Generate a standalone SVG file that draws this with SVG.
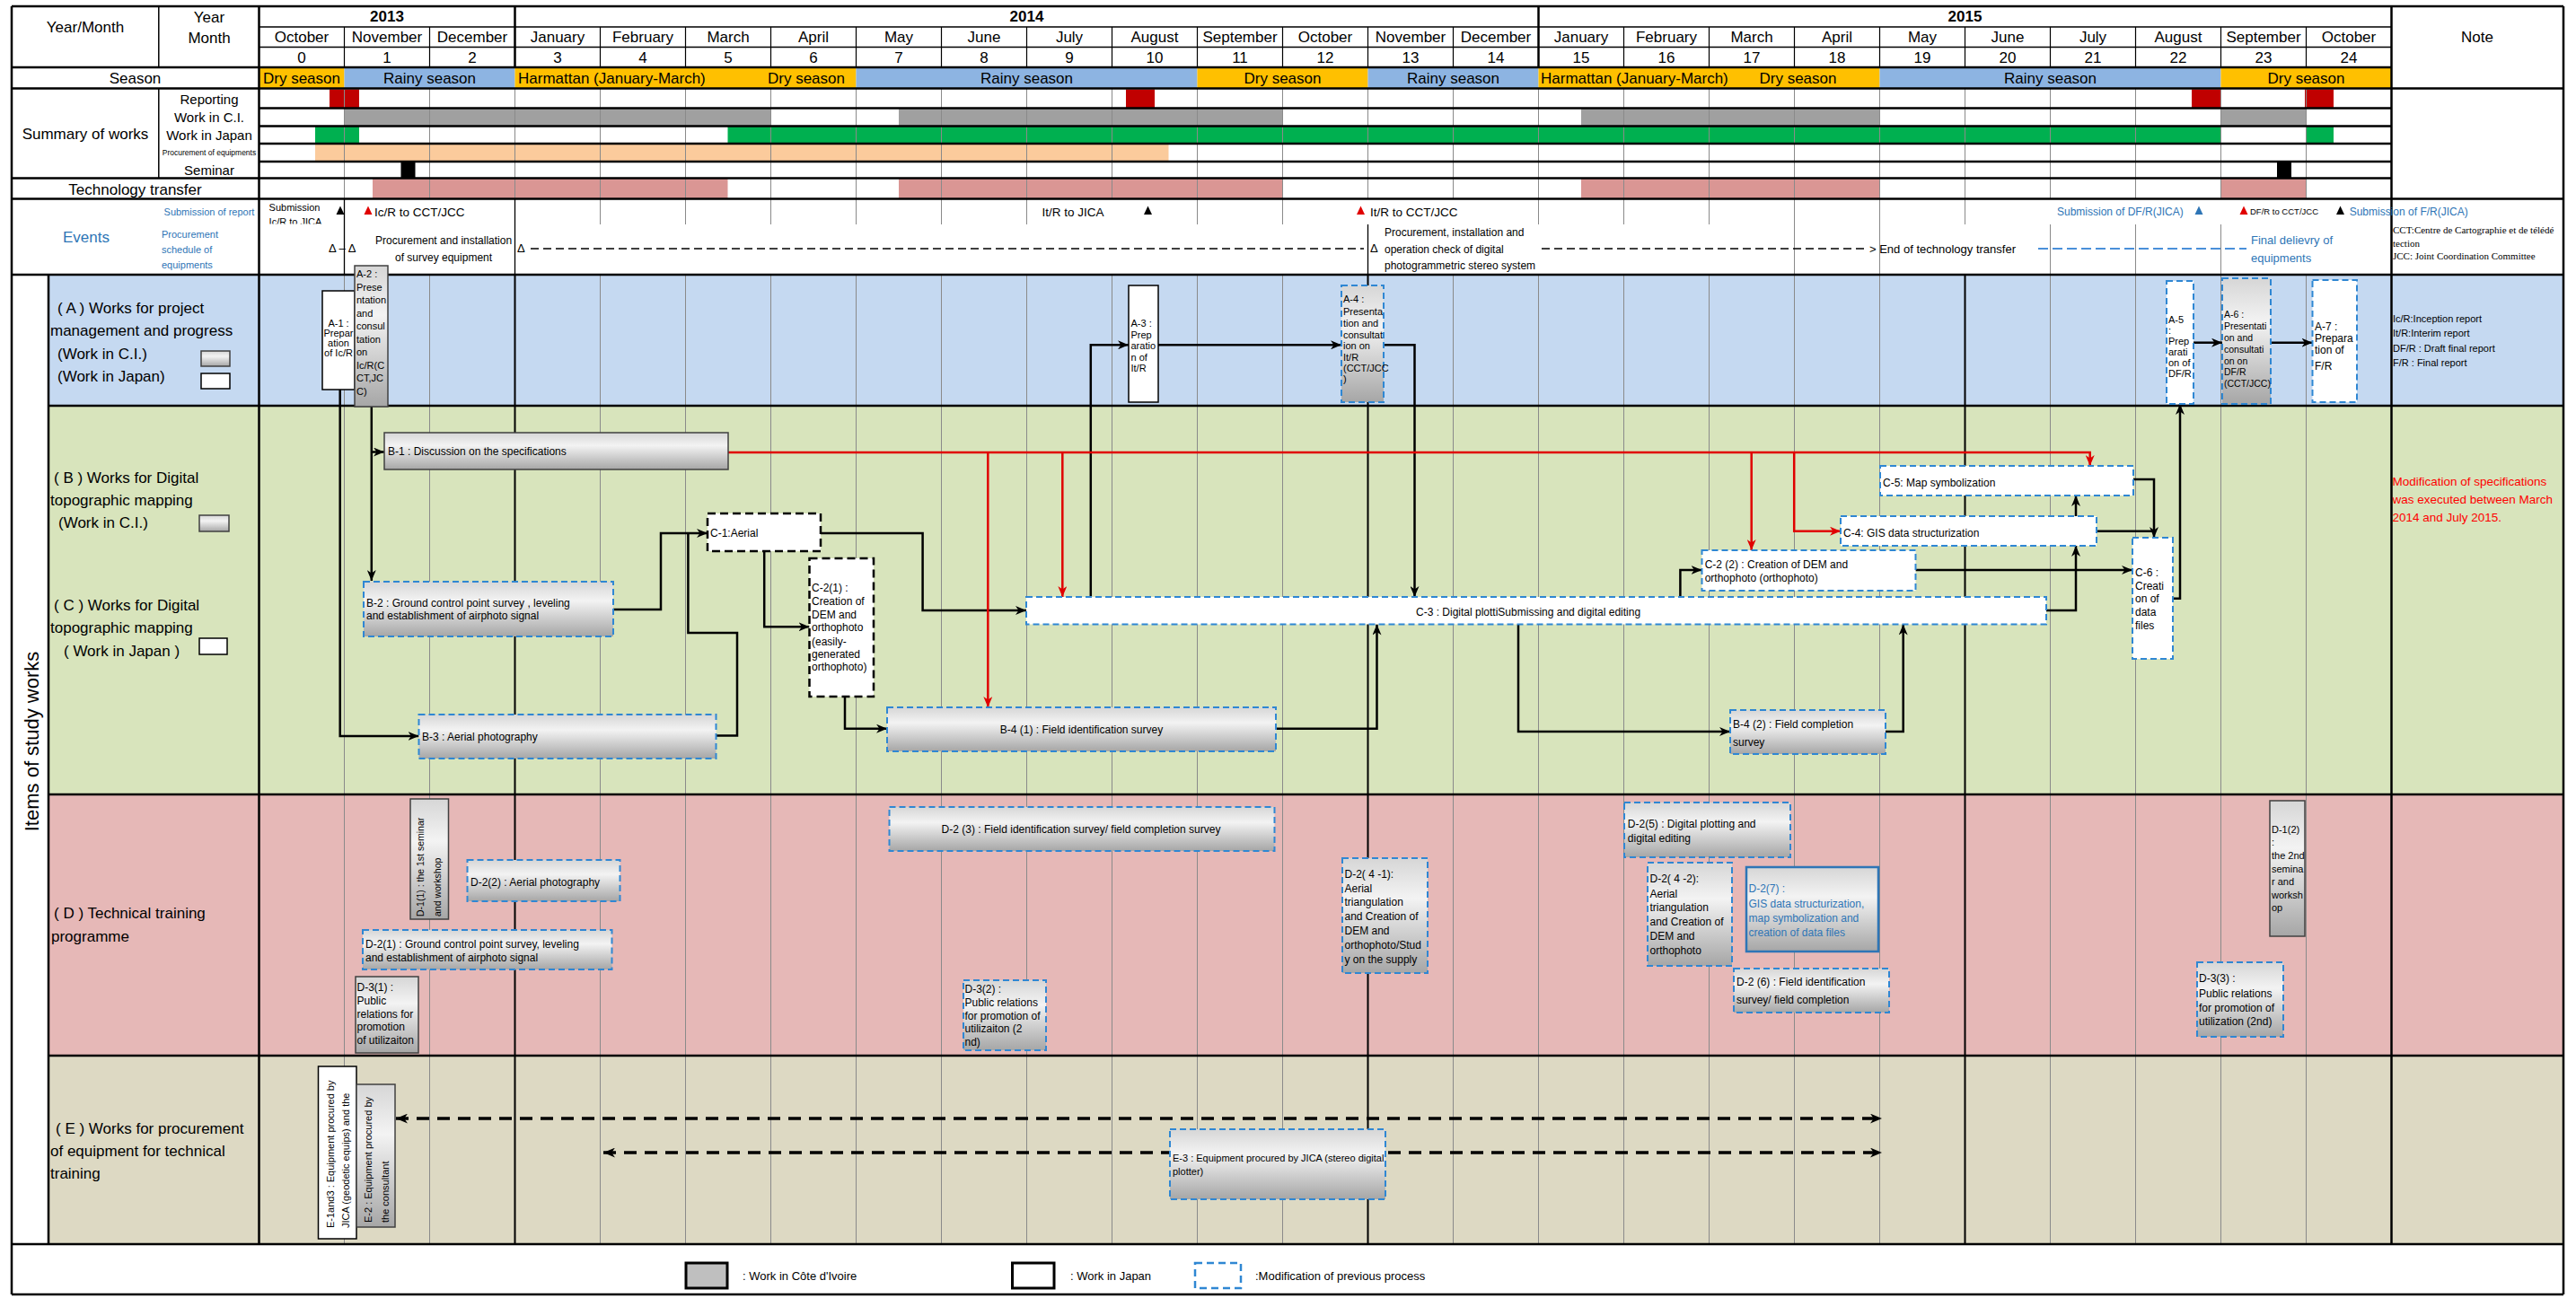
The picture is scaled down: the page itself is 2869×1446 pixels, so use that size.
<svg xmlns="http://www.w3.org/2000/svg" width="2869" height="1446" viewBox="0 0 2869 1446">
<style>
text{font-family:"Liberation Sans",Arial,"Noto Sans",sans-serif;fill:#000}
.h{font-size:17px}
.c{text-anchor:middle}
.s11{font-size:11px}
.s12{font-size:12px}
.blue{fill:#2E75B6}
.ci{fill:url(#gg);stroke:#404040;stroke-width:1.5}
.jp{fill:#fff;stroke:#000;stroke-width:1.5}
.mci{fill:url(#gg);stroke:#2F87D3;stroke-width:2;stroke-dasharray:7 4}
.mjp{fill:#fff;stroke:#2F87D3;stroke-width:2;stroke-dasharray:7 4}
.bd{fill:#fff;stroke:#000;stroke-width:2.5;stroke-dasharray:9 5}
.thin{stroke:#8a8a8a;stroke-width:1;fill:none}
.blk{stroke:#000;fill:none}
.cn{stroke:#000;stroke-width:2.5;fill:none;marker-end:url(#ab)}
.cn0{stroke:#000;stroke-width:2.5;fill:none}
.rd{stroke:#E00000;stroke-width:2.5;fill:none;marker-end:url(#ar)}
.ed{stroke:#000;stroke-width:3.5;fill:none;stroke-dasharray:14 9;marker-end:url(#ae);marker-start:url(#ae)}
</style>
<defs>
<linearGradient id="gg" x1="0" y1="0" x2="0" y2="1">
<stop offset="0" stop-color="#d6d6d6"/><stop offset="0.35" stop-color="#f3f3f3"/><stop offset="1" stop-color="#a6a6a6"/>
</linearGradient>
<marker id="ab" viewBox="0 0 12 10" refX="12" refY="5" markerWidth="12" markerHeight="10" markerUnits="userSpaceOnUse" orient="auto"><path d="M0,0 L12,5 L0,10 L3.5,5 Z" fill="#000"/></marker>
<marker id="ar" viewBox="0 0 12 10" refX="12" refY="5" markerWidth="12" markerHeight="10" markerUnits="userSpaceOnUse" orient="auto"><path d="M0,0 L12,5 L0,10 L3.5,5 Z" fill="#E00000"/></marker>
<marker id="ae" viewBox="0 0 12 10" refX="12" refY="5" markerWidth="13" markerHeight="11" markerUnits="userSpaceOnUse" orient="auto-start-reverse"><path d="M0,0 L12,5 L0,10 L3.5,5 Z" fill="#000"/></marker>
<clipPath id="clsub"><rect x="289" y="222" width="85" height="27.5"/></clipPath>
</defs>
<rect x="0" y="0" width="2869" height="1446" fill="#fff"/>

<g id="backgrounds">
<rect x="54" y="306" width="2801" height="146" fill="#C5D9F1"/>
<rect x="54" y="452" width="2801" height="433" fill="#D8E4BC"/>
<rect x="54" y="885" width="2801" height="291" fill="#E6B8B7"/>
<rect x="54" y="1176" width="2801" height="210" fill="#DDD9C3"/>
<!-- seasons -->
<rect x="288.5" y="75.5" width="95" height="23" fill="#FFC000"/>
<rect x="383.5" y="75.5" width="190" height="23" fill="#8DB4E2"/>
<rect x="573.5" y="75.5" width="380" height="23" fill="#FFC000"/>
<rect x="953.5" y="75.5" width="380" height="23" fill="#8DB4E2"/>
<rect x="1333.5" y="75.5" width="190" height="23" fill="#FFC000"/>
<rect x="1523.5" y="75.5" width="190" height="23" fill="#8DB4E2"/>
<rect x="1713.5" y="75.5" width="380" height="23" fill="#FFC000"/>
<rect x="2093.5" y="75.5" width="380" height="23" fill="#8DB4E2"/>
<rect x="2473.5" y="75.5" width="190" height="23" fill="#FFC000"/>
<!-- reporting -->
<g fill="#C00000">
<rect x="367" y="99.5" width="33" height="21"/><rect x="1254" y="99.5" width="32" height="21"/>
<rect x="2441" y="99.5" width="32" height="21"/><rect x="2567" y="99.5" width="32" height="21"/>
</g>
<g fill="#A0A0A0">
<rect x="383.5" y="121" width="475" height="19.5"/><rect x="1001" y="121" width="427.5" height="19.5"/>
<rect x="1761" y="121" width="332.5" height="19.5"/><rect x="2473.5" y="121" width="95" height="19.5"/>
</g>
<g fill="#00B050">
<rect x="351" y="141" width="49" height="19"/><rect x="810.5" y="141" width="1663" height="19"/>
<rect x="2568.5" y="141" width="30.5" height="19"/>
</g>
<rect x="351" y="160.5" width="950.5" height="19.5" fill="#FBCB9C"/>
<g fill="#000">
<rect x="446.5" y="180" width="16" height="18.5"/><rect x="2536" y="180" width="16" height="18.5"/>
</g>
<g fill="#DA9694">
<rect x="415" y="199" width="395.5" height="22.5"/><rect x="1001" y="199" width="427.5" height="22.5"/>
<rect x="1761" y="199" width="332.5" height="22.5"/><rect x="2473.5" y="199" width="95" height="22.5"/>
</g>
</g>

<g id="grid">
<path class="thin" d="M383.5 306V1386M478.5 306V1386M668.5 306V1386M763.5 306V1386M858.5 306V1386M953.5 306V1386M1048.5 306V1386M1143.5 306V1386M1238.5 306V1386M1333.5 306V1386M1428.5 306V1386M1618.5 306V1386M1713.5 306V1386M1808.5 306V1386M1903.5 306V1386M1998.5 306V1386M2093.5 306V1386M2283.5 306V1386M2378.5 306V1386M2473.5 306V1386M2568.5 306V1386"/>
<path class="blk" stroke-width="2" d="M573.5 306V1386M1523.5 306V1386M2188.5 306V1386"/>
<!-- summary grid -->
<path class="thin" d="M383.5 98.5V221.5M478.5 98.5V221.5M573.5 98.5V221.5M668.5 98.5V221.5M763.5 98.5V221.5M858.5 98.5V221.5M953.5 98.5V221.5M1048.5 98.5V221.5M1143.5 98.5V221.5M1238.5 98.5V221.5M1333.5 98.5V221.5M1428.5 98.5V221.5M1523.5 98.5V221.5M1618.5 98.5V221.5M1713.5 98.5V221.5M1808.5 98.5V221.5M1903.5 98.5V221.5M1998.5 98.5V221.5M2093.5 98.5V221.5M2188.5 98.5V221.5M2283.5 98.5V221.5M2378.5 98.5V221.5M2473.5 98.5V221.5M2568.5 98.5V221.5"/>
<!-- header month lines -->
<path class="blk" stroke-width="1.2" d="M383.5 30V75M478.5 30V75M668.5 30V75M763.5 30V75M858.5 30V75M953.5 30V75M1048.5 30V75M1143.5 30V75M1238.5 30V75M1333.5 30V75M1428.5 30V75M1523.5 30V75M1618.5 30V75M1808.5 30V75M1903.5 30V75M1998.5 30V75M2093.5 30V75M2188.5 30V75M2283.5 30V75M2378.5 30V75M2473.5 30V75M2568.5 30V75"/>
<path class="blk" stroke-width="2.5" d="M573.5 7V75M1713.5 7V75"/>
<!-- events grid -->
<path class="thin" d="M668.5 221.5V250M763.5 221.5V250M858.5 221.5V250M953.5 221.5V250M1048.5 221.5V250M1143.5 221.5V250M1333.5 221.5V250M1428.5 221.5V250M1713.5 221.5V250M1808.5 221.5V250M1903.5 221.5V250M1998.5 221.5V306M2093.5 221.5V306M2188.5 221.5V250M2283.5 250V306M2378.5 250V306M2473.5 250V306"/>
<path class="blk" stroke-width="1.3" d="M383.5 221.5V306M573.5 221.5V306M1523.5 250V306"/>
<!-- table frame -->
<path class="blk" stroke-width="2.5" d="M13 7H2855M13 75H2663.5M13 98.5H2855M13 221.5H2855M13 306H2855M54 452H2855M54 885H2855M54 1176H2855M13 1386H2855M13 1442H2855M13 7V1442M2855 7V1442M288.5 7V1386M2663.5 7V1386M54 306V1386"/>
<path class="blk" stroke-width="2.5" d="M288.5 120.5H2663.5M288.5 140.5H2663.5M288.5 160H2663.5M288.5 180H2663.5M13 198.5H2663.5"/>
<path class="blk" stroke-width="1.5" d="M288.5 30H2663.5M288.5 52.5H2663.5M176.8 7V75M176.8 98.5V198.5"/>
</g>

<g id="header-text">
<text class="h c" x="95" y="36">Year/Month</text>
<text class="h c" x="233" y="25">Year</text>
<text class="h c" x="233" y="48">Month</text>
<text class="h c" x="431" y="24" font-weight="bold">2013</text>
<text class="h c" x="1143.5" y="24" font-weight="bold">2014</text>
<text class="h c" x="2188.5" y="24" font-weight="bold">2015</text>
<text class="h c" x="2759" y="47">Note</text>
<g class="h c">
<text x="336" y="47">October</text><text x="431" y="47">November</text><text x="526" y="47">December</text>
<text x="621" y="47">January</text><text x="716" y="47">February</text><text x="811" y="47">March</text>
<text x="906" y="47">April</text><text x="1001" y="47">May</text><text x="1096" y="47">June</text>
<text x="1191" y="47">July</text><text x="1286" y="47">August</text><text x="1381" y="47">September</text>
<text x="1476" y="47">October</text><text x="1571" y="47">November</text><text x="1666" y="47">December</text>
<text x="1761" y="47">January</text><text x="1856" y="47">February</text><text x="1951" y="47">March</text>
<text x="2046" y="47">April</text><text x="2141" y="47">May</text><text x="2236" y="47">June</text>
<text x="2331" y="47">July</text><text x="2426" y="47">August</text><text x="2521" y="47">September</text>
<text x="2616" y="47">October</text>
<text x="336" y="70">0</text><text x="431" y="70">1</text><text x="526" y="70">2</text><text x="621" y="70">3</text>
<text x="716" y="70">4</text><text x="811" y="70">5</text><text x="906" y="70">6</text><text x="1001" y="70">7</text>
<text x="1096" y="70">8</text><text x="1191" y="70">9</text><text x="1286" y="70">10</text><text x="1381" y="70">11</text>
<text x="1476" y="70">12</text><text x="1571" y="70">13</text><text x="1666" y="70">14</text><text x="1761" y="70">15</text>
<text x="1856" y="70">16</text><text x="1951" y="70">17</text><text x="2046" y="70">18</text><text x="2141" y="70">19</text>
<text x="2236" y="70">20</text><text x="2331" y="70">21</text><text x="2426" y="70">22</text><text x="2521" y="70">23</text>
<text x="2616" y="70">24</text>
<text x="150.5" y="93">Season</text>
<text x="336" y="93">Dry season</text><text x="478.5" y="93">Rainy season</text>
<text x="898" y="93">Dry season</text><text x="1143.5" y="93">Rainy season</text>
<text x="1428.5" y="93">Dry season</text><text x="1618.5" y="93">Rainy season</text>
<text x="2002.5" y="93">Dry season</text><text x="2283.5" y="93">Rainy season</text>
<text x="2568.5" y="93">Dry season</text>
<text x="95" y="155">Summary of works</text>
<text x="150.5" y="217">Technology transfer</text>
</g>
<text class="h" x="577" y="93">Harmattan (January-March)</text>
<text class="h" x="1716" y="93">Harmattan (January-March)</text>
<g class="c" font-size="15">
<text x="233" y="116">Reporting</text>
<text x="233" y="136">Work in C.I.</text>
<text x="233" y="156">Work in Japan</text>
<text x="233" y="194.5">Seminar</text>
</g>
<text class="c" x="233" y="173" font-size="8.5">Procurement of equipments</text>
</g>

<g id="events">
<text class="h c blue" x="96" y="270">Events</text>
<text class="c s11 blue" x="233" y="239.5">Submission of report</text>
<text class="s11 blue" x="180" y="265">Procurement</text>
<text class="s11 blue" x="180" y="282">schedule of</text>
<text class="s11 blue" x="180" y="298.5">equipments</text>
<text class="s11" x="299.6" y="235">Submission</text>
<text class="s11" x="299.6" y="251" clip-path="url(#clsub)">Ic/R to JICA</text>
<polygon points="374.5,239 379,229.5 383.5,239" fill="#000"/>
<polygon points="405.5,239 410,229.5 414.5,239" fill="#E00000"/>
<text x="417" y="240.5" font-size="13.5">Ic/R to CCT/JCC</text>
<text x="366" y="281" font-size="13">Δ – Δ</text>
<text class="s12" x="418" y="272">Procurement and installation</text>
<text class="s12" x="440" y="291">of survey equipment</text>
<text x="576" y="281" font-size="13">Δ</text>
<line x1="591" y1="277" x2="1519" y2="277" stroke="#000" stroke-width="1.5" stroke-dasharray="9 5"/>
<text x="1160.6" y="240.5" font-size="13.5">It/R to JICA</text>
<polygon points="1274,239 1278.5,229.5 1283,239" fill="#000"/>
<polygon points="1511,239 1515.5,229.5 1520,239" fill="#E00000"/>
<text x="1526" y="240.5" font-size="13.5">It/R to CCT/JCC</text>
<text x="1526" y="281" font-size="13">Δ</text>
<text class="s12" x="1542" y="263">Procurement, installation and</text>
<text class="s12" x="1542" y="282">operation check of digital</text>
<text class="s12" x="1542" y="300">photogrammetric stereo system</text>
<line x1="1717" y1="277" x2="2080" y2="277" stroke="#000" stroke-width="1.5" stroke-dasharray="9 5"/>
<text x="2082" y="282" font-size="13">&gt; End of technology transfer</text>
<line x1="2270" y1="277" x2="2502" y2="277" stroke="#4A90D9" stroke-width="1.8" stroke-dasharray="11 5"/>
<text class="blue" x="2507" y="272" font-size="13">Final delievry of</text>
<text class="blue" x="2507" y="292" font-size="13">equipments</text>
<text class="s12 blue" x="2291" y="239.5">Submission of DF/R(JICA)</text>
<polygon points="2444.5,239 2449,229.5 2453.5,239" fill="#2E75B6"/>
<polygon points="2494.5,239 2499,229.5 2503.5,239" fill="#E00000"/>
<text x="2506" y="238.5" font-size="9.5">DF/R to CCT/JCC</text>
<polygon points="2602,239 2606.5,229.5 2611,239" fill="#000"/>
<text class="s12 blue" x="2616.7" y="239.5">Submission of F/R(JICA)</text>
<g font-size="11" style="font-family:'Liberation Serif','Times New Roman',serif">
<text x="2665" y="260" style="font-family:'Liberation Serif','Times New Roman',serif">CCT:Centre de Cartographie et de télédé</text>
<text x="2665" y="274.5" style="font-family:'Liberation Serif','Times New Roman',serif">tection</text>
<text x="2665" y="289" style="font-family:'Liberation Serif','Times New Roman',serif">JCC: Joint  Coordination Committee</text>
</g>
</g>

<g id="section-labels">
<text transform="translate(43,826) rotate(-90)" class="c" font-size="22">Items of study works</text>
<g class="h">
<text x="64" y="349">( A ) Works for project</text>
<text x="56" y="374">management and progress</text>
<text x="64" y="400">(Work in C.I.)</text>
<text x="64" y="425">(Work in Japan)</text>
<text x="60" y="538">( B ) Works for Digital</text>
<text x="56" y="563">topographic mapping</text>
<text x="65" y="588">(Work in C.I.)</text>
<text x="60" y="680">( C ) Works for Digital</text>
<text x="56" y="705">topographic mapping</text>
<text x="71" y="731">( Work in Japan )</text>
<text x="60" y="1023">( D ) Technical training</text>
<text x="57" y="1049">programme</text>
<text x="62" y="1263">( E ) Works for procurement</text>
<text x="56" y="1288">of equipment for technical</text>
<text x="56" y="1313">training</text>
</g>
<rect class="ci" x="224" y="391" width="32" height="17"/>
<rect class="jp" x="224" y="416" width="32" height="17"/>
<rect class="ci" x="222" y="574" width="33" height="18"/>
<rect class="jp" x="222" y="711" width="31" height="18"/>
<g class="s11">
<text x="2665" y="359">Ic/R:Inception report</text>
<text x="2665" y="375">It/R:Interim report</text>
<text x="2665" y="392">DF/R : Draft final report</text>
<text x="2665" y="408">F/R : Final report</text>
</g>
<g font-size="13.5" fill="#FF0000">
<text x="2664.5" y="541" fill="#FF0000" style="fill:#FF0000">Modification of specifications</text>
<text x="2664.5" y="561" style="fill:#FF0000">was executed between March</text>
<text x="2664.5" y="581" style="fill:#FF0000">2014 and July 2015.</text>
</g>
</g>

<g id="connectors">
<path class="cn" d="M378.7 434V820H466.5"/>
<path class="cn" d="M413.8 453V647"/>
<path class="cn" d="M413.8 503.5H428"/>
<path class="cn" d="M683 679H736V594H788"/>
<path class="cn0" d="M797.3 819.5H821V705H766.4V594"/>
<path class="cn" d="M914 594H1027.6V680H1143"/>
<path class="cn" d="M851.2 614V698.3H901.5"/>
<path class="cn" d="M941 776V811.7H988"/>
<path class="cn" d="M1421 811.7H1533.5V695.5"/>
<path class="cn" d="M1214.8 665V384.3H1257"/>
<path class="cn" d="M1290 384.3H1494"/>
<path class="cn" d="M1541 384.3H1575.5V665"/>
<path class="cn" d="M1871.4 665V635H1895.5"/>
<path class="cn" d="M1691 695.5V815H1927"/>
<path class="cn" d="M2100 815H2119.7V695.5"/>
<path class="cn" d="M2279 680H2312V608"/>
<path class="cn" d="M2312 575V552"/>
<path class="cn" d="M2376 534H2399V599"/>
<path class="cn0" d="M2335 591.7H2399"/>
<path class="cn" d="M2133.3 635H2375"/>
<path class="cn" d="M2420 666.7H2428V450"/>
<path class="cn" d="M2443 381.7H2475"/>
<path class="cn" d="M2529 381.7H2575.5"/>
<path class="rd" d="M811 504H2327.7V519"/>
<path class="rd" d="M1100.3 504V788"/>
<path class="rd" d="M1183.3 504V665"/>
<path class="rd" d="M1950.7 504V613"/>
<path class="rd" d="M1998.2 504V591.7H2050"/>
<path class="ed" d="M441 1246H2096"/>
<path class="ed" d="M672 1284H2096"/>
</g>

<g id="nodes">
<g id="A-1"><rect class="jp" x="359" y="324" width="36" height="110"/>
<text class="s11 c" x="377"><tspan x="377" y="364">A-1 :</tspan><tspan x="377" y="375">Prepar</tspan><tspan x="377" y="386">ation</tspan><tspan x="377" y="396.5">of Ic/R</tspan></text></g>
<g id="A-2"><rect class="ci" x="395" y="296" width="37" height="157"/>
<text class="s11"><tspan x="397" y="309">A-2 :</tspan><tspan x="397" y="323.5">Prese</tspan><tspan x="397" y="338">ntation</tspan><tspan x="397" y="352.5">and</tspan><tspan x="397" y="367">consul</tspan><tspan x="397" y="381.5">tation</tspan><tspan x="397" y="396">on</tspan><tspan x="397" y="410.5">Ic/R(C</tspan><tspan x="397" y="425">CT,JC</tspan><tspan x="397" y="439.5">C)</tspan></text></g>
<g id="A-3"><rect class="jp" x="1257" y="318" width="33" height="130"/>
<text class="s11"><tspan x="1259.5" y="364">A-3 :</tspan><tspan x="1259.5" y="376.5">Prep</tspan><tspan x="1259.5" y="389">aratio</tspan><tspan x="1259.5" y="401.5">n of</tspan><tspan x="1259.5" y="414">It/R</tspan></text></g>
<g id="A-4"><rect class="mci" x="1494" y="318" width="47" height="130"/>
<text class="s11"><tspan x="1496" y="337">A-4 :</tspan><tspan x="1496" y="351">Presenta</tspan><tspan x="1496" y="364">tion and</tspan><tspan x="1496" y="377">consultat</tspan><tspan x="1496" y="389">ion on</tspan><tspan x="1496" y="401.5">It/R</tspan><tspan x="1496" y="414">(CCT/JCC</tspan><tspan x="1496" y="426">)</tspan></text></g>
<g id="A-5"><rect class="mjp" x="2413" y="313" width="30" height="137"/>
<text class="s11"><tspan x="2415" y="360">A-5</tspan><tspan x="2415" y="372">:</tspan><tspan x="2415" y="384">Prep</tspan><tspan x="2415" y="396">arati</tspan><tspan x="2415" y="408">on of</tspan><tspan x="2415" y="420">DF/R</tspan></text></g>
<g id="A-6"><rect class="mci" x="2475" y="310" width="54" height="140"/>
<text font-size="10.5"><tspan x="2477" y="354">A-6 :</tspan><tspan x="2477" y="367">Presentati</tspan><tspan x="2477" y="380">on and</tspan><tspan x="2477" y="392.5">consultati</tspan><tspan x="2477" y="405.5">on on</tspan><tspan x="2477" y="418">DF/R</tspan><tspan x="2477" y="431">(CCT/JCC)</tspan></text></g>
<g id="A-7"><rect class="mjp" x="2575.5" y="312" width="49.5" height="136"/>
<text class="s12"><tspan x="2578" y="368">A-7 :</tspan><tspan x="2578" y="381">Prepara</tspan><tspan x="2578" y="394">tion of</tspan><tspan x="2578" y="412">F/R</tspan></text></g>

<g id="B-1"><rect class="ci" x="428" y="482" width="383" height="41"/>
<text class="s12" x="432" y="507">B-1 : Discussion on the specifications</text></g>
<g id="B-2"><rect class="mci" x="405" y="648" width="278" height="61"/>
<text class="s12"><tspan x="408" y="676">B-2 : Ground control point  survey , leveling</tspan><tspan x="408" y="690">and establishment of airphoto signal</tspan></text></g>
<g id="B-3"><rect class="mci" x="466.5" y="796" width="331" height="49"/>
<text class="s12" x="470" y="824.5">B-3 : Aerial photography</text></g>
<g id="C-1"><rect class="bd" x="788" y="572" width="126" height="42"/>
<text class="s12" x="791" y="598">C-1:Aerial</text></g>
<g id="C-2-1"><rect class="bd" x="901.5" y="622" width="71.5" height="154"/>
<text class="s12"><tspan x="904" y="659">C-2(1) :</tspan><tspan x="904" y="674">Creation of</tspan><tspan x="904" y="689">DEM and</tspan><tspan x="904" y="703">orthophoto</tspan><tspan x="904" y="719">(easily-</tspan><tspan x="904" y="733">generated</tspan><tspan x="904" y="747">orthophoto)</tspan></text></g>
<g id="C-3"><rect class="mjp" x="1143" y="665" width="1136" height="30.5"/>
<text class="s12" x="1577" y="686">C-3 :  Digital plottiSubmissing and digital editing</text></g>
<g id="B-4-1"><rect class="mci" x="988" y="788" width="433" height="49"/>
<text class="s12 c" x="1204.5" y="817">B-4 (1) : Field identification survey</text></g>
<g id="B-4-2"><rect class="mci" x="1927" y="791" width="173" height="49"/>
<text class="s12"><tspan x="1930" y="811">B-4 (2) : Field completion</tspan><tspan x="1930" y="831">survey</tspan></text></g>
<g id="C-2-2"><rect class="mjp" x="1895.5" y="613" width="238" height="45"/>
<text class="s12"><tspan x="1898.7" y="633">C-2 (2) : Creation of DEM and</tspan><tspan x="1898.7" y="648">orthophoto (orthophoto)</tspan></text></g>
<g id="C-4"><rect class="mjp" x="2050" y="575" width="285" height="33"/>
<text class="s12" x="2053" y="598">C-4: GIS data structurization</text></g>
<g id="C-5"><rect class="mjp" x="2094" y="519" width="282" height="33"/>
<text class="s12" x="2097" y="542">C-5: Map symbolization</text></g>
<g id="C-6"><rect class="mjp" x="2375" y="599" width="45" height="135"/>
<text class="s12"><tspan x="2378" y="642">C-6 :</tspan><tspan x="2378" y="657">Creati</tspan><tspan x="2378" y="671">on of</tspan><tspan x="2378" y="686">data</tspan><tspan x="2378" y="701">files</tspan></text></g>

<g id="D-1-1"><rect class="ci" x="457" y="890" width="42.5" height="134" stroke="#000"/>
<text transform="translate(472,1021) rotate(-90)" font-size="10.5">D-1(1) : the 1st seminar</text>
<text transform="translate(491,1021) rotate(-90)" font-size="10.5">and workshop</text></g>
<g id="D-2-2"><rect class="mci" x="520.5" y="958" width="170" height="46"/>
<text class="s12" x="524" y="987">D-2(2) : Aerial photography</text></g>
<g id="D-2-1"><rect class="mci" x="404" y="1036" width="277.5" height="44"/>
<text class="s12"><tspan x="407" y="1056">D-2(1) : Ground control point  survey, leveling</tspan><tspan x="407" y="1070.5">and establishment of airphoto signal</tspan></text></g>
<g id="D-3-1"><rect class="ci" x="396" y="1088" width="70" height="85" stroke="#000" stroke-width="2"/>
<text class="s12"><tspan x="397.5" y="1104">D-3(1) :</tspan><tspan x="397.5" y="1119">Public</tspan><tspan x="397.5" y="1134">relations for</tspan><tspan x="397.5" y="1148">promotion</tspan><tspan x="397.5" y="1162.5">of utilizaiton</tspan></text></g>
<g id="D-2-3"><rect class="mci" x="990.5" y="899" width="429" height="49"/>
<text class="s12 c" x="1204" y="928">D-2 (3) : Field identification survey/ field completion survey</text></g>
<g id="D-3-2"><rect class="mci" x="1073" y="1092" width="92" height="78"/>
<text class="s12"><tspan x="1074.5" y="1106">D-3(2) :</tspan><tspan x="1074.5" y="1121">Public relations</tspan><tspan x="1074.5" y="1135.5">for promotion of</tspan><tspan x="1074.5" y="1150">utilizaiton  (2</tspan><tspan x="1074.5" y="1164.5">nd)</tspan></text></g>
<g id="D-2-4-1"><rect class="mci" x="1495" y="956" width="95" height="128"/>
<text class="s12"><tspan x="1497.5" y="978">D-2( 4 -1):</tspan><tspan x="1497.5" y="993.5">Aerial</tspan><tspan x="1497.5" y="1009">triangulation</tspan><tspan x="1497.5" y="1025">and Creation of</tspan><tspan x="1497.5" y="1041">DEM and</tspan><tspan x="1497.5" y="1057">orthophoto/Stud</tspan><tspan x="1497.5" y="1073">y on the supply</tspan></text></g>
<g id="D-2-5"><rect class="mci" x="1809" y="894" width="185" height="61"/>
<text class="s12"><tspan x="1812.8" y="922">D-2(5) : Digital plotting and</tspan><tspan x="1812.8" y="938">digital editing</tspan></text></g>
<g id="D-2-4-2"><rect class="mci" x="1835" y="961" width="94" height="115"/>
<text class="s12"><tspan x="1837.5" y="983">D-2( 4 -2):</tspan><tspan x="1837.5" y="999.5">Aerial</tspan><tspan x="1837.5" y="1015">triangulation</tspan><tspan x="1837.5" y="1031">and Creation of</tspan><tspan x="1837.5" y="1047">DEM and</tspan><tspan x="1837.5" y="1063">orthophoto</tspan></text></g>
<g id="D-2-7"><rect x="1945" y="966" width="147" height="94" fill="url(#gg)" stroke="#2E75B6" stroke-width="2.5"/>
<text class="s12 blue"><tspan x="1947.5" y="994">D-2(7) :</tspan><tspan x="1947.5" y="1010.5">GIS data structurization,</tspan><tspan x="1947.5" y="1026.5">map symbolization and</tspan><tspan x="1947.5" y="1042.5">creation of data files</tspan></text></g>
<g id="D-2-6"><rect class="mci" x="1931" y="1079" width="173" height="49"/>
<text class="s12"><tspan x="1934" y="1098">D-2 (6) : Field identification</tspan><tspan x="1934" y="1117.5">survey/ field completion</tspan></text></g>
<g id="D-1-2"><rect class="ci" x="2528" y="892" width="39" height="151" stroke="#000" stroke-width="2"/>
<text class="s11"><tspan x="2530" y="928">D-1(2)</tspan><tspan x="2530" y="942">:</tspan><tspan x="2530" y="957">the 2nd</tspan><tspan x="2530" y="971.5">semina</tspan><tspan x="2530" y="986">r and</tspan><tspan x="2530" y="1000.5">worksh</tspan><tspan x="2530" y="1015">op</tspan></text></g>
<g id="D-3-3"><rect class="mci" x="2447" y="1072" width="96" height="83"/>
<text class="s12"><tspan x="2449" y="1094">D-3(3) :</tspan><tspan x="2449" y="1110.5">Public relations</tspan><tspan x="2449" y="1126.5">for promotion of</tspan><tspan x="2449" y="1142">utilization (2nd)</tspan></text></g>

<g id="E-1"><rect class="jp" x="354.5" y="1188" width="42.5" height="192" stroke-width="2"/>
<text transform="translate(372,1368) rotate(-90)" font-size="11">E-1and3 : Equipment procured by</text>
<text transform="translate(389,1368) rotate(-90)" font-size="11">JICA (geodetic equips) and the</text></g>
<g id="E-2"><rect class="ci" x="397" y="1208" width="43" height="159" stroke="#000"/>
<text transform="translate(414,1362) rotate(-90)" font-size="11">E-2 : Equipment procured by</text>
<text transform="translate(433,1362) rotate(-90)" font-size="11">the consultant</text></g>
<g id="E-3"><rect class="mci" x="1303" y="1258" width="240" height="78"/>
<text class="s11"><tspan x="1306" y="1294">E-3 : Equipment procured by JICA (stereo digital</tspan><tspan x="1306" y="1309">plotter)</tspan></text></g>
</g>

<g id="legend">
<rect x="764" y="1407" width="46" height="28" fill="#BFBFBF" stroke="#000" stroke-width="3"/>
<text x="827" y="1426" font-size="13">: Work in Côte d'Ivoire</text>
<rect x="1127.5" y="1407" width="46.5" height="28" fill="#fff" stroke="#000" stroke-width="3"/>
<text x="1192" y="1426" font-size="13">: Work in Japan</text>
<rect x="1331" y="1407" width="51" height="28" fill="#fff" stroke="#2F87D3" stroke-width="2.5" stroke-dasharray="8 5"/>
<text x="1398" y="1426" font-size="13">:Modification of previous process</text>
</g>
</svg>
